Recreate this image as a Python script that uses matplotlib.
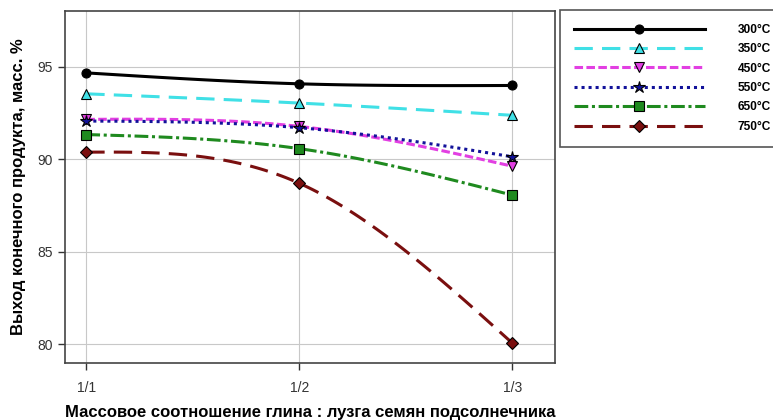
import numpy as np
import matplotlib
matplotlib.use('Agg')
import matplotlib.pyplot as plt

plt.rcParams['font.family'] = ['Liberation Sans', 'DejaVu Sans']

# ratio clay : sunflower husk
ratios = ['1/1', '1/2', '1/3']

# yield of final product, mass %
y_300 = [94.66, 94.07, 93.98]
y_350 = [93.53, 93.03, 92.37]
y_450 = [92.15, 91.77, 89.62]
y_550 = [92.06, 91.70, 90.13]
y_650 = [91.33, 90.57, 88.06]
y_750 = [90.38, 88.70, 80.07]

labels = ['300°C', '350°C', '450°C', '550°C', '650°C', '750°C']


def natural_spline(xs, ys, num=101):
    # smooth line through the points (natural cubic spline, like SigmaPlot)
    xs = np.asarray(xs, float)
    ys = np.asarray(ys, float)
    n = len(xs)
    h = np.diff(xs)
    A = np.zeros((n, n))
    r = np.zeros(n)
    A[0, 0] = A[-1, -1] = 1
    for i in range(1, n - 1):
        A[i, i - 1] = h[i - 1]
        A[i, i] = 2 * (h[i - 1] + h[i])
        A[i, i + 1] = h[i]
        r[i] = 6 * ((ys[i + 1] - ys[i]) / h[i] - (ys[i] - ys[i - 1]) / h[i - 1])
    M = np.linalg.solve(A, r)
    xx = np.linspace(xs[0], xs[-1], num)
    idx = np.clip(np.searchsorted(xs, xx) - 1, 0, n - 2)
    x0, x1 = xs[idx], xs[idx + 1]
    hh = x1 - x0
    t0, t1 = x1 - xx, xx - x0
    yy = (M[idx] * t0**3 / (6 * hh) + M[idx + 1] * t1**3 / (6 * hh)
          + (ys[idx] / hh - M[idx] * hh / 6) * t0
          + (ys[idx + 1] / hh - M[idx + 1] * hh / 6) * t1)
    return xx, yy


styles = [
    dict(color='black', ls='-', marker='o', mfc='black'),
    dict(color='#40E0E6', ls=(0, (6, 3)), marker='^', mfc='#40E0E6'),
    dict(color='#E23FE2', ls=(0, (2.8, 1.1)), marker='v', mfc='#E23FE2'),
    dict(color='#12129A', ls=(0, (1, 1.3)), marker='*', mfc='#12129A'),
    dict(color='#1F8A1F', ls=(0, (4.5, 1.2, 1, 1.2)), marker='s', mfc='#1F8A1F'),
    dict(color='#7A0F0F', ls=(0, (6, 3)), marker='D', mfc='#7A0F0F'),
]

fig = plt.figure(figsize=(7.73, 4.2), dpi=100)
ax = fig.add_axes([65 / 773, 1 - 363 / 420, 490 / 773, 352 / 420])

x = np.arange(len(ratios))
series = [y_300, y_350, y_450, y_550, y_650, y_750]
for ys, lab, st in zip(series, labels, styles):
    xx, yy = natural_spline(x, ys)
    ms = 9 if st['marker'] == '*' else 6.5
    ax.plot(xx, yy, color=st['color'], linestyle=st['ls'], lw=2.2,
            marker=st['marker'], markevery=[0, 50, 100], ms=ms,
            mfc=st['mfc'], mec='black', mew=0.8, label=lab)

ax.set_xlim(-0.1, 2.2)
ax.set_ylim(79, 98)
ax.set_xticks(x)
ax.set_xticklabels(ratios)
ax.set_yticks([80, 85, 90, 95])
ax.grid(True, color='#c8c8c8', lw=0.8)
ax.set_axisbelow(True)
ax.tick_params(direction='out', length=5, width=1, colors='#333333',
               labelsize=10, pad=4)
ax.tick_params(axis='x', pad=8)
for s in ax.spines.values():
    s.set_color('#444444')
    s.set_linewidth(1.2)

ax.set_xlabel('Массовое соотношение глина : лузга семян подсолнечника',
              fontsize=12, fontweight='bold', labelpad=7)
ax.set_ylabel('Выход конечного продукта, масс. %',
              fontsize=12, fontweight='bold', labelpad=8)

leg = ax.legend(loc='upper left', bbox_to_anchor=(560 / 773, 1 - 10 / 420),
                bbox_transform=fig.transFigure, borderaxespad=0,
                fancybox=False, edgecolor='#555555', framealpha=1,
                handlelength=11.0, handletextpad=2.7, borderpad=1.15,
                labelspacing=0.62, prop={'size': 8.6, 'weight': 'bold'})
leg.get_frame().set_linewidth(1.2)

fig.savefig('out.png', dpi=100)
